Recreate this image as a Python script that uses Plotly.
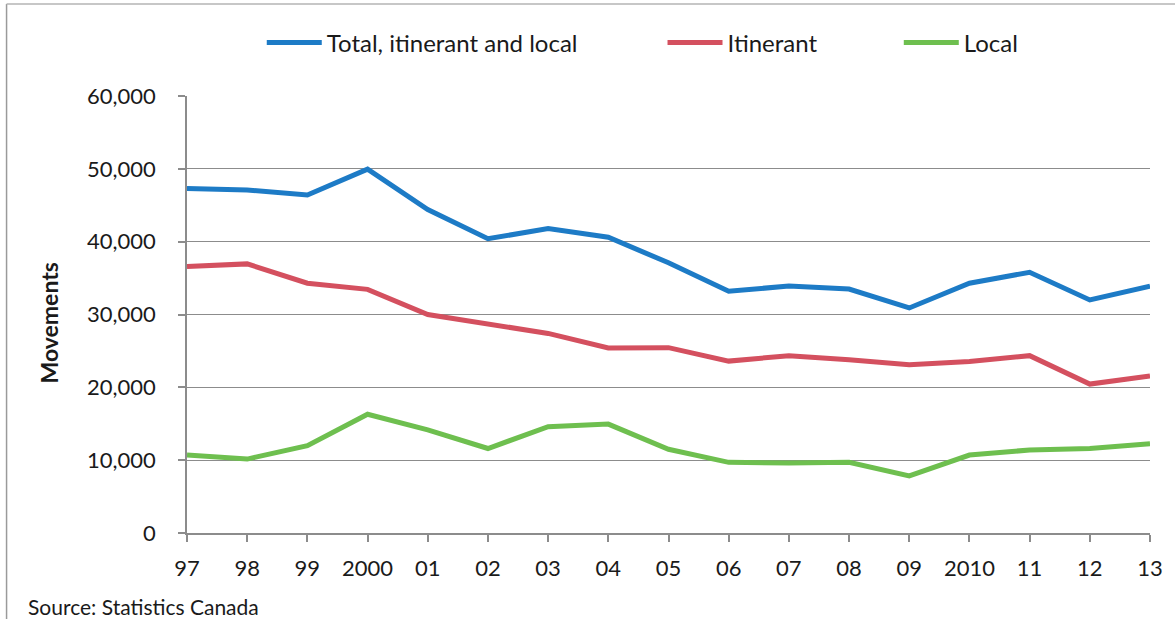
import plotly.graph_objects as go

# Years (axis labels) and movement counts per series
years = ["97", "98", "99", "2000", "01", "02", "03", "04", "05",
         "06", "07", "08", "09", "2010", "11", "12", "13"]
total = [47300, 47100, 46400, 49950, 44400, 40400, 41800, 40600, 37100,
         33200, 33900, 33500, 30900, 34300, 35800, 32000, 33900]
itinerant = [36600, 36950, 34300, 33450, 30000, 28700, 27400, 25400, 25450,
             23600, 24350, 23800, 23100, 23550, 24350, 20450, 21550]
local = [10700, 10150, 12000, 16300, 14150, 11600, 14600, 14950, 11500,
         9700, 9600, 9700, 7850, 10700, 11400, 11600, 12250]
y_ticks = [0, 10000, 20000, 30000, 40000, 50000, 60000]

series_names = ["Total, itinerant and local", "Itinerant", "Local"]
colors = ["#1d7bc6", "#d4505f", "#6ebf4f"]

W, H = 1175, 619
L, R, T, B = 187, 22, 96, 86
pw, ph = W - L - R, H - T - B

def px_x(x):
    return (x - L) / pw

def px_y(y):
    return (H - B - y) / ph

fig = go.Figure()
legend_keys = ["legend", "legend2", "legend3"]
for name, vals, col, lg in zip(series_names, [total, itinerant, local], colors, legend_keys):
    fig.add_trace(go.Scatter(
        x=years, y=vals, name=name, mode="lines",
        line=dict(color=col, width=5),
        legend=lg,
    ))

font_family = "Lato, 'Open Sans', sans-serif"
text_color = "#1a1a1a"
legend_common = dict(
    orientation="h", xanchor="left", yanchor="middle",
    bgcolor="rgba(0,0,0,0)", itemwidth=55,
    font=dict(family=font_family, size=24, color=text_color),
    yref="paper",
)
legend_x = [262, 664, 901]
layout_legends = {}
for lg, lx in zip(legend_keys, legend_x):
    layout_legends[lg] = dict(legend_common, x=px_x(lx), y=px_y(43))

tick_font = dict(size=22, family=font_family, color=text_color)

fig.update_layout(
    width=W, height=H,
    margin=dict(l=L, r=R, t=T, b=B),
    paper_bgcolor="white", plot_bgcolor="white",
    font=dict(family=font_family, color=text_color),
    showlegend=True,
    **layout_legends,
    xaxis=dict(
        type="category", range=[0, len(years) - 1],
        showgrid=False, showline=True, linecolor="#8c8c8c", linewidth=1.5,
        ticks="outside", ticklen=7, tickcolor="#8c8c8c", tickwidth=1.5,
        tickfont=tick_font, ticklabelstandoff=8,
        zeroline=False,
    ),
    yaxis=dict(
        range=[0, 60000], tickvals=y_ticks, tickformat=",d",
        showgrid=True, gridcolor="#8c8c8c", gridwidth=1,
        showline=True, linecolor="#8c8c8c", linewidth=1.5,
        ticks="outside", ticklen=7, tickcolor="#8c8c8c", tickwidth=1.5,
        tickfont=tick_font, ticklabelstandoff=18,
        zeroline=False,
    ),
)

# Y-axis title
fig.add_annotation(
    text="<b>Movements</b>", xref="paper", yref="paper",
    x=px_x(49), y=px_y(323), xanchor="center", yanchor="middle",
    textangle=-90, showarrow=False,
    font=dict(size=23, family=font_family, color=text_color),
)

# Source note
fig.add_annotation(
    text="Source: Statistics Canada", xref="paper", yref="paper",
    x=px_x(25), y=px_y(606), xanchor="left", yanchor="middle",
    showarrow=False, font=dict(size=21, family=font_family, color=text_color),
)

# Frame edges (left and top)
fig.add_shape(type="line", xref="paper", yref="paper",
              x0=px_x(6), x1=px_x(6), y0=px_y(4), y1=px_y(700),
              line=dict(color="#9a9a9a", width=1.5))
fig.add_shape(type="line", xref="paper", yref="paper",
              x0=px_x(6), x1=px_x(1180), y0=px_y(4), y1=px_y(4),
              line=dict(color="#b5b5b5", width=1.5))

fig.write_html("out.html")
